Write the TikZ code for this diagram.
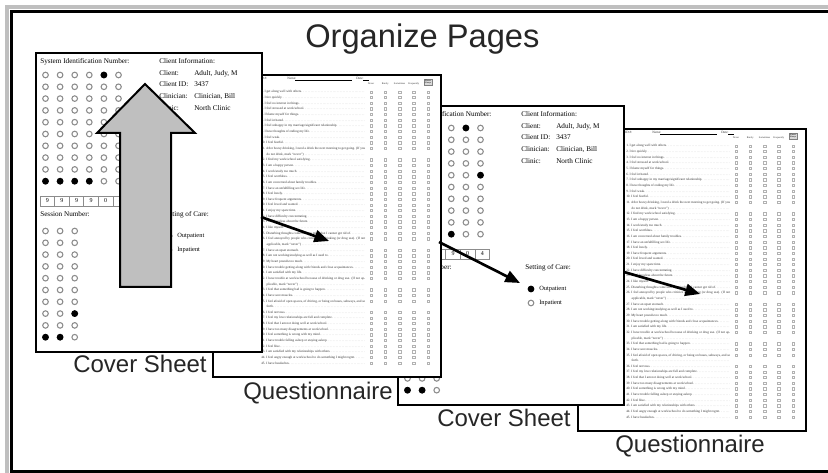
\documentclass[tikz,border=0pt]{standalone}
\usepackage{fontspec}
\setmainfont{Liberation Sans}
\newfontfamily\formfont[Ligatures=TeX]{Liberation Serif}
\usetikzlibrary{arrows.meta}

\tikzset{
    sheet/.style={draw, fill=white, line width=1.6pt, anchor=north west, inner sep=0pt},
    formtext/.style={anchor=base west, inner sep=0pt, font=\formfont\fontsize{5.4}{6.5}\selectfont},
    bubble/.style={draw=black!45, fill=white, line width=.8pt},
    marked/.style={draw=black, fill=black},
    qtext/.style={anchor=base west, inner sep=0pt, text=black!80, font=\formfont\fontsize{2.5}{4.24}\selectfont},
    qmark/.style={draw=black!30, line width=.25pt},
    pagename/.style={anchor=base west, inner sep=0pt, font=\fontsize{18}{20}\selectfont, text=black!85},
    pagearrow/.style={line width=2pt, -{Triangle[length=11pt,width=9pt]}}
}

\newcommand{\coversheet}[3]{%
\begin{scope}[shift={(#2,#3)}]
    \node[sheet, minimum width=169.5pt, minimum height=224.25pt] (#1) at (0,0) {};
    \node[formtext] (#1-sid) at (5,12) {System Identification Number:};
    \node[formtext] (#1-info) at (124,12) {Client Information:};
    \node[formtext] (#1-cl) at (124,24) {Client:};
    \node[formtext] (#1-clv) at (159,24) {Adult, Judy, M};
    \node[formtext] (#1-id) at (124,35) {Client ID:};
    \node[formtext] (#1-idv) at (159,35) {3437};
    \node[formtext] (#1-cn) at (124,47) {Clinician:};
    \node[formtext] (#1-cnv) at (159,47) {Clinician, Bill};
    \node[formtext] (#1-cc) at (124,59) {Clinic:};
    \node[formtext] (#1-ccv) at (159,59) {North Clinic};
    \foreach \c in {0,...,5}
    {
        \foreach \r in {0,...,9}
            \draw[bubble] (10.5+14.6*\c, 23+11.8*\r) circle[radius=2.1pt];
    }
    \foreach \c/\r in {4/0,5/4,0/9,1/9,2/9,3/9}
        \draw[bubble, marked] (10.5+14.6*\c, 23+11.8*\r) circle[radius=2.1pt];
    \foreach \d [count=\c from 0] in {9,9,9,9,0,4}
    {
        \draw[black!45, line width=.5pt] (5+14.6*\c,144) rectangle ++(14.6,10);
        \node[formtext, anchor=center, font=\formfont\fontsize{4.5}{5}\selectfont] (#1-box\c) at (12.3+14.6*\c,149) {\d};
    }
    \node[formtext] (#1-sn) at (5,165) {Session Number:};
    \foreach \c in {0,1,2}
    {
        \foreach \r in {0,...,9}
            \draw[bubble] (10.5+14.6*\c, 179+11.8*\r) circle[radius=2.1pt];
    }
    \foreach \c/\r in {2/7,0/9,1/9}
        \draw[bubble, marked] (10.5+14.6*\c, 179+11.8*\r) circle[radius=2.1pt];
    \node[formtext] (#1-set) at (128,165) {Setting of Care:};
    \draw[bubble, marked] (134,184) circle[radius=2.1pt];
    \node[formtext, font=\formfont\fontsize{4.8}{6}\selectfont] (#1-out) at (142,186) {Outpatient};
    \draw[bubble] (134,198) circle[radius=2.1pt];
    \node[formtext, font=\formfont\fontsize{4.8}{6}\selectfont] (#1-in) at (142,200) {Inpatient};
\end{scope}}

\newcommand{\questionnaire}[3]{%
\begin{scope}[shift={(#2,#3)}]
    \node[sheet, minimum width=171pt, minimum height=226.5pt] (#1) at (0,0) {};
    \node[qtext] (#1-id) at (48,6) {ID \#:};
    \node[qtext] (#1-name) at (75,6) {Name:};
    \draw[line width=.2pt] (83,6.3) -- (140,6.3);
    \node[qtext] (#1-date) at (144,6) {Date:};
    \draw[line width=.2pt] (151,6.3) -- (157,6.3);
    \foreach \h [count=\k from 0] in {Never,Rarely,Sometimes,Frequently}
        \node[qtext, anchor=base, font=\formfont\fontsize{1.9}{2.2}\selectfont] (#1-h\k) at (159+14.25*\k,11) {\h};
    \node[draw=black!50, fill=black!15, line width=.2pt, inner sep=.4pt, align=center,
        font=\formfont\fontsize{1.6}{1.9}\selectfont] (#1-h4) at (216,8) {Almost\\Always};
    \foreach \t [count=\i] in {
        {I get along well with others.},
        {I tire quickly.},
        {I feel no interest in things.},
        {I feel stressed at work/school.},
        {I blame myself for things.},
        {I feel irritated.},
        {I feel unhappy in my marriage/significant relationship.},
        {I have thoughts of ending my life.},
        {I feel weak.},
        {I feel fearful.},
        {After heavy drinking, I need a drink the next morning to get going. (If you do not drink, mark ``never'')},
        {I find my work/school satisfying.},
        {I am a happy person.},
        {I work/study too much.},
        {I feel worthless.},
        {I am concerned about family troubles.},
        {I have an unfulfilling sex life.},
        {I feel lonely.},
        {I have frequent arguments.},
        {I feel loved and wanted.},
        {I enjoy my spare time.},
        {I have difficulty concentrating.},
        {I feel hopeless about the future.},
        {I like myself.},
        {Disturbing thoughts come into my mind that I cannot get rid of.},
        {I feel annoyed by people who criticize my drinking (or drug use). (If not applicable, mark ``never'')},
        {I have an upset stomach.},
        {I am not working/studying as well as I used to.},
        {My heart pounds too much.},
        {I have trouble getting along with friends and close acquaintances.},
        {I am satisfied with my life.},
        {I have trouble at work/school because of drinking or drug use. (If not applicable, mark ``never'')},
        {I feel that something bad is going to happen.},
        {I have sore muscles.},
        {I feel afraid of open spaces, of driving, or being on buses, subways, and so forth.},
        {I feel nervous.},
        {I feel my love relationships are full and complete.},
        {I feel that I am not doing well at work/school.},
        {I have too many disagreements at work/school.},
        {I feel something is wrong with my mind.},
        {I have trouble falling asleep or staying asleep.},
        {I feel blue.},
        {I am satisfied with my relationships with others.},
        {I feel angry enough at work/school to do something I might regret.},
        {I have headaches.}}
    {
        \pgfmathtruncatemacro\row{\i-1+(\i>11)+(\i>26)+(\i>32)+(\i>35)}
        \node[qtext] (#1-item\i) at (49,19+5.65*\row)
            {\parbox[t]{78pt}{\hangindent=4pt\hangafter=1 \i.~\t\,{\color{black!40}\dotfill}}};
        \foreach \k/\w in {0/2.2,1/2.2,2/3.4,3/2.2,4/2.2}
            \draw[qmark] ({159+14.25*\k-\w/2},19+5.65*\row) rectangle ++(\w,-2.3);
    }
\end{scope}}

\begin{document}
\begin{tikzpicture}[x=.75pt, y=-.75pt]
\useasboundingbox (0,0) rectangle (828,473);
\fill[white] (0,0) rectangle (828,473);
\begin{scope}
    \clip (0,0) rectangle (828,473);
    \draw[black!25, line width=3pt] (7,490) -- (7,7) -- (840,7);
    \draw[line width=2.6pt] (11.5,490) -- (11.5,11.5) -- (840,11.5);
    \draw[line width=2.6pt] (11.5,471.5) -- (840,471.5);
\end{scope}
\node[anchor=base west, inner sep=0pt, font=\fontsize{24.5}{26}\selectfont, text=black!85] (title) at (305,48) {Organize Pages};

\questionnaire{q2}{577}{128}
\coversheet{cs2}{397}{105}
\questionnaire{q1}{212}{74}
\coversheet{cs1}{35}{52}

\draw[fill=black!25, line width=1.5pt] (120,287) -- (120,133) -- (97,133) -- (145,84)
    -- (195,133) -- (171,133) -- (171,287) -- cycle;

\coordinate (a1) at (261,217);
\coordinate (b1) at (329,241);
\coordinate (a2) at (439,242);
\coordinate (b2) at (520,283);
\coordinate (a3) at (624,272);
\coordinate (b3) at (700,294);
\draw[pagearrow] (a1) -- (b1);
\draw[pagearrow] (a2) -- (b2);
\draw[pagearrow] (a3) -- (b3);

\node[pagename] (cs1-label) at (73,373) {Cover Sheet};
\node[pagename] (q1-label) at (243,400) {Questionnaire};
\node[pagename] (cs2-label) at (437,427) {Cover Sheet};
\node[pagename] (q2-label) at (615,453) {Questionnaire};
\end{tikzpicture}
\end{document}
